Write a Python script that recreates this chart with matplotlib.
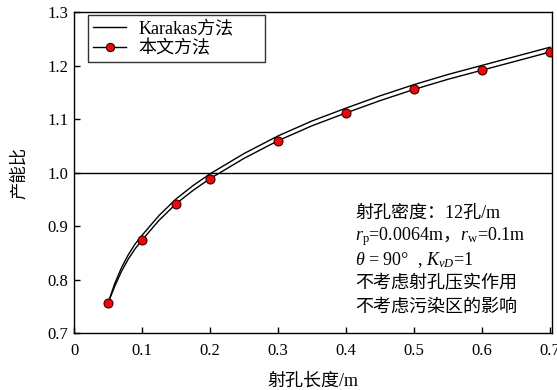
import matplotlib
matplotlib.use("Agg")
import matplotlib.pyplot as plt

plt.rcParams["font.family"] = ["Liberation Serif", "Noto Sans CJK SC"]
plt.rcParams["mathtext.fontset"] = "custom"
plt.rcParams["mathtext.rm"] = "Noto Sans CJK SC"
plt.rcParams["mathtext.it"] = "Liberation Serif:italic"
plt.rcParams["axes.unicode_minus"] = False

# smooth curves
curve_x = [0.05, 0.06, 0.07, 0.08, 0.09, 0.1, 0.125, 0.15, 0.175, 0.2,
           0.25, 0.3, 0.35, 0.4, 0.45, 0.5, 0.55, 0.6, 0.65, 0.7]
karakas_y = [0.756, 0.793, 0.823, 0.847, 0.867, 0.883, 0.920, 0.951, 0.976, 0.998,
             1.036, 1.069, 1.097, 1.121, 1.144, 1.165, 1.184, 1.201, 1.218, 1.235]
paper_y = [0.756, 0.788, 0.816, 0.839, 0.858, 0.874, 0.911, 0.942, 0.967, 0.989,
           1.027, 1.060, 1.088, 1.112, 1.135, 1.156, 1.175, 1.192, 1.209, 1.226]

# marker points of the paper's method
marker_x = [0.05, 0.1, 0.15, 0.2, 0.3, 0.4, 0.5, 0.6, 0.7]
marker_y = [0.756, 0.874, 0.942, 0.989, 1.060, 1.112, 1.156, 1.192, 1.226]

x_ticks = [0, 0.1, 0.2, 0.3, 0.4, 0.5, 0.6, 0.7]
x_labels = ["0", "0.1", "0.2", "0.3", "0.4", "0.5", "0.6", "0.7"]
y_ticks = [0.7, 0.8, 0.9, 1.0, 1.1, 1.2, 1.3]
y_labels = ["0.7", "0.8", "0.9", "1.0", "1.1", "1.2", "1.3"]

notes = [
    "射孔密度：12孔/m",
    r"$r_\mathregular{p}$=0.0064m$\mathrm{，}r_\mathregular{w}$=0.1m",
    r"$\theta$ = 90°  , $K_{vD}$=1",
    "不考虑射孔压实作用",
    "不考虑污染区的影响",
]

fig = plt.figure(figsize=(5.57, 3.9), dpi=100)
ax = fig.add_axes([0.1329, 0.146, 0.8577, 0.822])

ax.axhline(1.0, color="black", linewidth=1.0)
ax.plot(curve_x, karakas_y, color="black", linewidth=1.0, label="Karakas方法")
ax.plot(curve_x, paper_y, color="black", linewidth=1.0)
ax.plot(marker_x, marker_y, linestyle="none", marker="o", markersize=6.5,
        markerfacecolor="red", markeredgecolor="black", markeredgewidth=0.7)
# legend proxy for line + marker
ax.plot([], [], color="black", linewidth=1.0, marker="o", markersize=6,
        markerfacecolor="red", markeredgecolor="black", markeredgewidth=0.7,
        label="本文方法")

ax.set_xlim(0, 0.7025)
ax.set_ylim(0.7, 1.3)
ax.set_xticks(x_ticks, x_labels)
ax.set_yticks(y_ticks, y_labels)
ax.tick_params(direction="in", length=4, width=1, labelsize=12)
ax.tick_params(axis="x", pad=7)
ax.tick_params(axis="y", pad=4)
for side in ax.spines.values():
    side.set_linewidth(1.0)

ax.set_xlabel("射孔长度/m", fontsize=13, labelpad=10)
ax.set_ylabel("产能比", fontsize=12.5, labelpad=14)

leg = ax.legend(loc="upper left", bbox_to_anchor=(0.0293, 0.0, 0.3706, 0.992),
                mode="expand", fontsize=13, frameon=True, fancybox=False,
                edgecolor="black", handlelength=1.85, borderpad=0.28,
                labelspacing=0.15, handletextpad=0.65, borderaxespad=0.0)
leg.get_frame().set_linewidth(1.0)

for i, line in enumerate(notes):
    ax.text(0.588, 0.374 - i * 0.0733, line, transform=ax.transAxes,
            fontsize=13, ha="left", va="center")

fig.savefig("out.png", dpi=100)
